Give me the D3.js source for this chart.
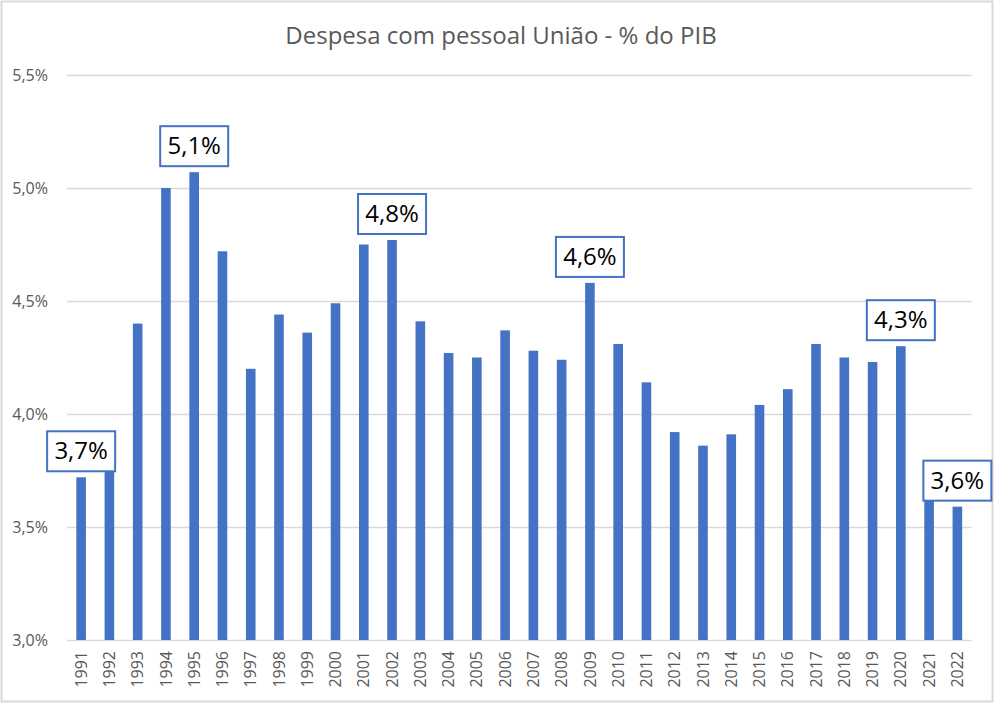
<!DOCTYPE html>
<html>
<head>
<meta charset="utf-8">
<script src="https://cdn.jsdelivr.net/npm/d3@7.9.0/dist/d3.min.js"></script>
<style>
  body { margin: 0; background: #fff; }
  svg { display: block; font-family: "Open Sans", sans-serif; }
</style>
</head>
<body>
<svg id="chart"></svg>
<script>
// values (% do PIB)
const years = ["1991","1992","1993","1994","1995","1996","1997","1998","1999","2000",
  "2001","2002","2003","2004","2005","2006","2007","2008","2009","2010",
  "2011","2012","2013","2014","2015","2016","2017","2018","2019","2020","2021","2022"];
const values = [3.72, 3.76, 4.40, 5.00, 5.07, 4.72, 4.20, 4.44, 4.36, 4.49,
  4.75, 4.77, 4.41, 4.27, 4.25, 4.37, 4.28, 4.24, 4.58, 4.31,
  4.14, 3.92, 3.86, 3.91, 4.04, 4.11, 4.31, 4.25, 4.23, 4.30, 3.64, 3.59];
const yTicks = [3.0, 3.5, 4.0, 4.5, 5.0, 5.5];
const callouts = [
  { year: "1991", text: "3,7%" },
  { year: "1995", text: "5,1%" },
  { year: "2002", text: "4,8%" },
  { year: "2009", text: "4,6%" },
  { year: "2020", text: "4,3%" },
  { year: "2022", text: "3,6%" }
];

const width = 996, height = 704;
const margin = { top: 75, right: 24, bottom: 63, left: 67 };
const grey = "#595959", gridColor = "#d9d9d9", barColor = "#4472c4";

const svg = d3.select("#chart").attr("width", width).attr("height", height);

// outer chart frame
svg.append("rect")
  .attr("x", 1.5).attr("y", 1.5)
  .attr("width", 991).attr("height", 700)
  .attr("fill", "#fff")
  .attr("stroke", gridColor).attr("stroke-width", 2);

const x = d3.scaleBand()
  .domain(years)
  .range([margin.left, width - margin.right - 0.5])
  .paddingInner(0.66)
  .paddingOuter(0.33);

const y = d3.scaleLinear()
  .domain([3.0, 5.5])
  .range([640, margin.top]);

const fmt = d => d.toFixed(1).replace(".", ",") + "%";

// title
svg.append("text")
  .attr("x", 501).attr("y", 44)
  .attr("text-anchor", "middle")
  .attr("font-size", 24)
  .attr("fill", grey)
  .text("Despesa com pessoal União - % do PIB");

// grid + y labels
const yAxis = svg.append("g")
  .attr("transform", `translate(${margin.left},0)`)
  .call(d3.axisLeft(y).tickValues(yTicks).tickFormat(fmt)
    .tickSize(-(x.range()[1] - margin.left)).tickPadding(19));
yAxis.select(".domain").remove();
yAxis.selectAll(".tick line").attr("stroke", gridColor).attr("stroke-width", 1.5);
yAxis.selectAll(".tick text").attr("fill", grey).attr("font-size", 16)
  .attr("font-family", "Open Sans, sans-serif");

// bars
svg.append("g")
  .selectAll("rect")
  .data(years)
  .join("rect")
  .attr("x", (d) => x(d))
  .attr("y", (d, i) => y(values[i]))
  .attr("width", x.bandwidth())
  .attr("height", (d, i) => y(3.0) - y(values[i]))
  .attr("fill", barColor);

// x labels
const xAxis = svg.append("g")
  .attr("transform", `translate(0,${y(3.0)})`)
  .call(d3.axisBottom(x).tickSize(0).tickPadding(0));
xAxis.select(".domain").remove();
xAxis.selectAll(".tick text")
  .attr("fill", grey)
  .attr("font-size", 16)
  .attr("font-family", "Open Sans, sans-serif")
  .attr("text-anchor", "end")
  .attr("transform", "rotate(-90)")
  .attr("x", -11)
  .attr("y", 0)
  .attr("dy", "0.35em");

// callout boxes
const boxes = svg.append("g")
  .selectAll("g")
  .data(callouts)
  .join("g")
  .attr("transform", d => {
    const i = years.indexOf(d.year);
    return `translate(${x(d.year) + x.bandwidth() / 2},${y(values[i]) - 6})`;
  });

boxes.append("rect")
  .attr("x", -34).attr("y", -40)
  .attr("width", 68).attr("height", 40)
  .attr("fill", "#fff")
  .attr("stroke", barColor)
  .attr("stroke-width", 2);

boxes.append("text")
  .attr("x", 0).attr("y", -12)
  .attr("text-anchor", "middle")
  .attr("font-size", 24)
  .attr("fill", "#000")
  .text(d => d.text);
</script>
</body>
</html>
